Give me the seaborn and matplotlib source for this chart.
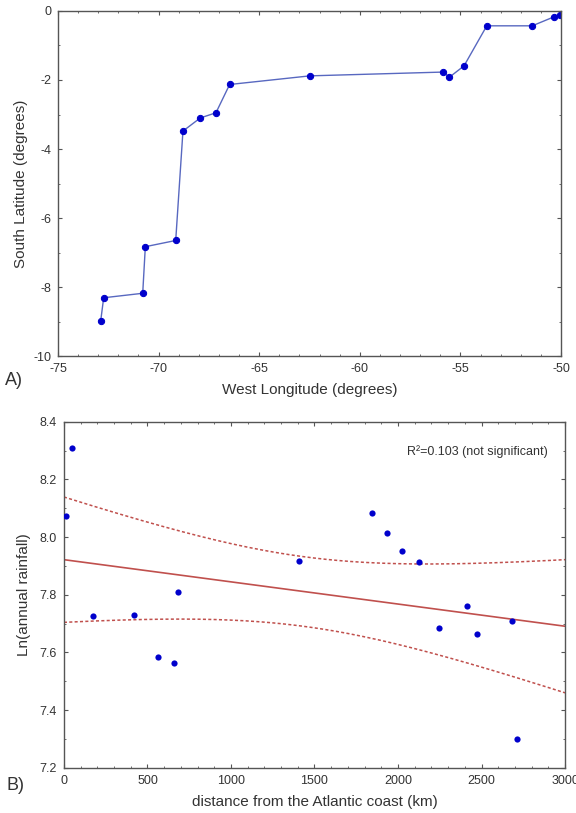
import numpy as np
import pandas as pd
import matplotlib
matplotlib.use('Agg')
import matplotlib.pyplot as plt
from matplotlib.ticker import MultipleLocator, FormatStrFormatter
import seaborn as sns

# ── data: panel A (track of sampling sites) ─────────────────────
lon = [-72.88, -72.73, -70.79, -70.66, -69.15, -68.79, -67.93, -67.15, -66.47,
       -62.48, -55.85, -55.55, -54.82, -53.69, -51.43, -50.35, -50.05]
lat = [-8.99, -8.31, -8.18, -6.83, -6.65, -3.48, -3.10, -2.95, -2.13,
       -1.88, -1.77, -1.92, -1.59, -0.43, -0.43, -0.17, -0.12]

# ── data: panel B (rainfall vs distance) ────────────────────────
dist = [10, 50, 172, 417, 565, 657, 681, 1405, 1846, 1934, 2022, 2128,
        2248, 2412, 2472, 2681, 2715]
ln_rain = [8.073, 8.308, 7.726, 7.730, 7.583, 7.564, 7.808, 7.917, 8.082,
           8.015, 7.951, 7.913, 7.684, 7.762, 7.663, 7.708, 7.300]
r2_label = 'R²=0.103 (not significant)'

sns.set_theme(style='ticks')
plt.rcParams['font.family'] = ['Liberation Sans', 'DejaVu Sans']
plt.rcParams['axes.unicode_minus'] = False
txt = '#333333'
dot = '#0000cc'

fig = plt.figure(figsize=(5.76, 8.13), dpi=100)
ax1 = fig.add_axes([0.1007, 0.562, 0.8733, 0.4245])
ax2 = fig.add_axes([0.111, 0.0557, 0.870, 0.4256])

def style_axes(ax):
    for s in ax.spines.values():
        s.set_color('#555555')
        s.set_linewidth(1.0)
    ax.tick_params(which='both', direction='in', top=True, right=True,
                   colors='#555555', labelcolor=txt, labelsize=9)
    ax.tick_params(which='major', length=3, width=0.8, pad=5)
    ax.tick_params(which='minor', length=1.5, width=0.6)

# ── A) ──────────────────────────────────────────────────────────
df_a = pd.DataFrame({'lon': lon, 'lat': lat})
sns.lineplot(data=df_a, x='lon', y='lat', sort=False, ax=ax1,
             color='#5868c0', linewidth=1.0, marker='o', markersize=4.5,
             markerfacecolor=dot, markeredgecolor=dot)
ax1.set_xlim(-75, -50)
ax1.set_ylim(-10, 0)
ax1.xaxis.set_major_locator(MultipleLocator(5))
ax1.xaxis.set_minor_locator(MultipleLocator(1))
ax1.yaxis.set_major_locator(MultipleLocator(2))
ax1.yaxis.set_minor_locator(MultipleLocator(1))
ax1.set_xlabel('West Longitude (degrees)', fontsize=11, color=txt, labelpad=6)
ax1.set_ylabel('South Latitude (degrees)', fontsize=11, color=txt, labelpad=4)
style_axes(ax1)
fig.text(0.008, 0.527, 'A)', fontsize=13, color=txt)

# ── B) ──────────────────────────────────────────────────────────
df_b = pd.DataFrame({'dist': dist, 'ln_rain': ln_rain})
sns.scatterplot(data=df_b, x='dist', y='ln_rain', ax=ax2, color=dot,
                s=20, edgecolor=dot, linewidth=0, zorder=3)

# least-squares fit and 95% confidence band of the mean
x = np.array(dist, dtype=float)
y = np.array(ln_rain)
n = len(x)
slope, icept = np.polyfit(x, y, 1)
resid = y - (icept + slope * x)
s_err = np.sqrt(np.sum(resid ** 2) / (n - 2))
t_val = 2.131  # t(0.975, df=15)
xs = np.linspace(0, 3000, 200)
fit = icept + slope * xs
half = t_val * s_err * np.sqrt(1 / n + (xs - x.mean()) ** 2 / np.sum((x - x.mean()) ** 2))
band = pd.DataFrame({'x': xs, 'fit': fit, 'lo': fit - half, 'hi': fit + half})

sns.lineplot(data=band, x='x', y='fit', ax=ax2, color='#c0504d', linewidth=1.2)
sns.lineplot(data=band, x='x', y='hi', ax=ax2, color='#c0504d', linewidth=1.1,
             linestyle=(0, (2, 1.5)))
sns.lineplot(data=band, x='x', y='lo', ax=ax2, color='#c0504d', linewidth=1.1,
             linestyle=(0, (2, 1.5)))

ax2.set_xlim(0, 3000)
ax2.set_ylim(7.2, 8.4)
ax2.xaxis.set_major_locator(MultipleLocator(500))
ax2.xaxis.set_minor_locator(MultipleLocator(100))
ax2.yaxis.set_major_locator(MultipleLocator(0.2))
ax2.yaxis.set_minor_locator(MultipleLocator(0.1))
ax2.yaxis.set_major_formatter(FormatStrFormatter('%.1f'))
ax2.set_xlabel('distance from the Atlantic coast (km)', fontsize=11, color=txt, labelpad=6)
ax2.set_ylabel('Ln(annual rainfall)', fontsize=11, color=txt, labelpad=6)
style_axes(ax2)
ax2.text(0.965, 0.915, r2_label, transform=ax2.transAxes, ha='right',
         va='center', fontsize=9, color=txt)
fig.text(0.012, 0.028, 'B)', fontsize=13, color=txt)

fig.savefig('out.png', dpi=100)
